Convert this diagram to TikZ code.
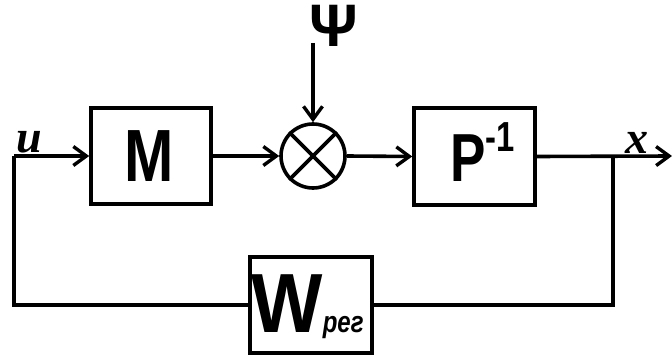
\documentclass[tikz,border=0pt]{standalone}
\usepackage{fontspec}
\setmainfont{Liberation Sans}
\newfontfamily\lserif{Liberation Serif}
\usetikzlibrary{arrows.meta}
\tikzset{
  blk/.style={draw, line width=3.6pt, rectangle, inner sep=0pt, fill=white},
  wire/.style={line width=3.6pt, line join=miter},
  arr/.style={wire, -{Straight Barb[length=13pt, width=19pt, line width=3.4pt]}},
  big/.style={inner sep=0pt, anchor=base},
}
\begin{document}
\begin{tikzpicture}[x=1pt, y=-1pt]
\useasboundingbox (0,0) rectangle (672,358);
% blocks
\node[blk, minimum width=120pt, minimum height=96pt] (M) at (151,156) {};
\node[blk, minimum width=121pt, minimum height=97pt] (P) at (474.5,156.5) {};
\node[blk, minimum width=122pt, minimum height=96pt] (W) at (311,305) {};
\node[draw, circle, line width=3.6pt, minimum size=64pt, inner sep=0pt] (S) at (313,156) {};
\draw[line width=3.6pt] (S.north west) -- (S.south east) (S.north east) -- (S.south west);
% texts
\node[big] (Mt) at (149,182) {\fontsize{74}{74}\selectfont\bfseries\scalebox{0.8}[1]{M}};
\node[big] (Pt) at (482.5,182) {\fontsize{68}{68}\selectfont\bfseries\scalebox{0.78}[1]{P\raisebox{30pt}{\fontsize{42}{42}\selectfont -1}}};
\node[big] (Wt) at (307.5,332) {\fontsize{84}{84}\selectfont\bfseries\scalebox{0.9}[1]{W}\scalebox{0.8}[1]{\fontsize{30}{30}\selectfont\itshape рег}};
\node[inner sep=0pt] (psi) at (334,26) {\fontsize{60}{60}\selectfont\bfseries Ψ};
\node[inner sep=0pt] (u) at (29,142) {\fontsize{46}{46}\selectfont\lserif\bfseries\itshape u};
\node[inner sep=0pt] (x) at (637,143) {\fontsize{46}{46}\selectfont\lserif\bfseries\itshape x};
% connectors
\coordinate (in) at (14,156);
\coordinate (out) at (672,156);
\coordinate (br) at (613,156);
\coordinate (psitop) at (313,43);
\draw[arr] (in) -- (M.west);
\draw[arr] (M.east) -- (S.west);
\draw[arr] (S.east) -- (P.west);
\draw[arr] (P.east) -- (out);
\draw[arr] (psitop) -- (S.north);
\draw[wire] (br) |- (W.east);
\draw[wire] (W.west) -| (in);
\end{tikzpicture}
\end{document}
